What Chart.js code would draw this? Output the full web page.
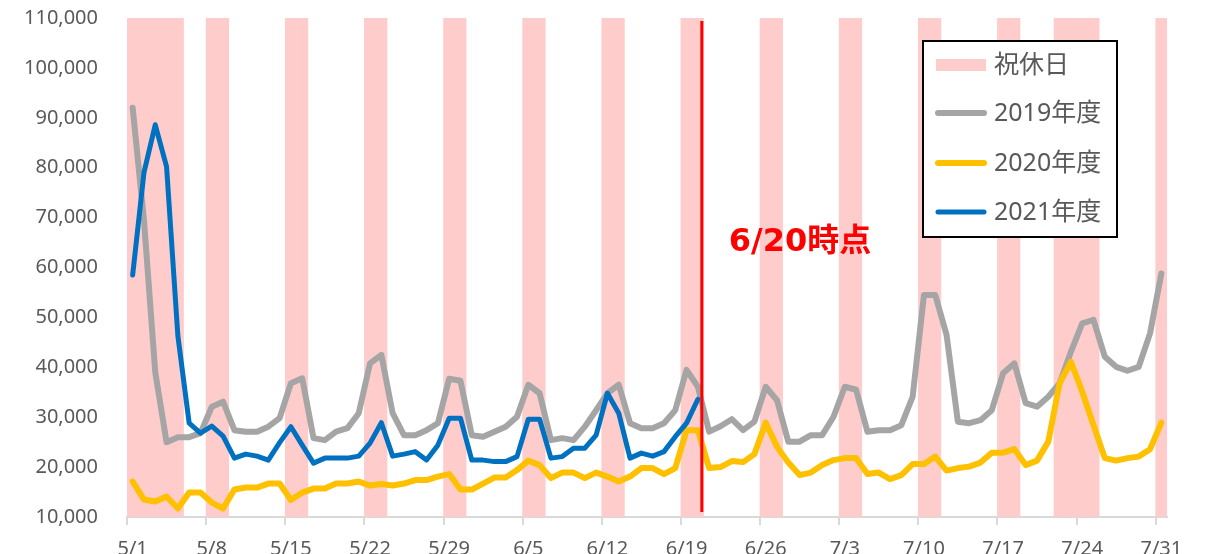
<!DOCTYPE html>
<html>
<head>
<meta charset="utf-8">
<script src="https://cdn.jsdelivr.net/npm/chart.js@4.4.1/dist/chart.umd.min.js"></script>
<style>
  html, body { margin: 0; padding: 0; background: #fff; }
  #wrap { width: 1207px; height: 554px; }
</style>
</head>
<body>
<div id="wrap"><canvas id="lineChart" width="1207" height="554"></canvas></div>
<script>
// dates 5/1 - 7/31
var labels = [
  '5/1','5/2','5/3','5/4','5/5','5/6','5/7','5/8','5/9','5/10','5/11','5/12','5/13','5/14','5/15','5/16',
  '5/17','5/18','5/19','5/20','5/21','5/22','5/23','5/24','5/25','5/26','5/27','5/28','5/29','5/30','5/31',
  '6/1','6/2','6/3','6/4','6/5','6/6','6/7','6/8','6/9','6/10','6/11','6/12','6/13','6/14','6/15','6/16',
  '6/17','6/18','6/19','6/20','6/21','6/22','6/23','6/24','6/25','6/26','6/27','6/28','6/29','6/30',
  '7/1','7/2','7/3','7/4','7/5','7/6','7/7','7/8','7/9','7/10','7/11','7/12','7/13','7/14','7/15','7/16',
  '7/17','7/18','7/19','7/20','7/21','7/22','7/23','7/24','7/25','7/26','7/27','7/28','7/29','7/30','7/31'
];

// weekends and public holidays (pink bands)
var holidays = [
  '5/1','5/2','5/3','5/4','5/5','5/8','5/9','5/15','5/16','5/22','5/23','5/29','5/30',
  '6/5','6/6','6/12','6/13','6/19','6/20','6/26','6/27',
  '7/3','7/4','7/10','7/11','7/17','7/18','7/22','7/23','7/24','7/25','7/31'
];

var data2019 = [
  92000, 69500, 39000, 25000, 26000, 26000, 26800, 32100, 33100, 27400, 27100, 27100, 28100, 29800,
  36800, 37800, 25800, 25400, 27100, 27800, 30800, 40800, 42500, 30800, 26400, 26400, 27400, 28800,
  37700, 37300, 26400, 26100, 27100, 28100, 30100, 36500, 34800, 25400, 25800, 25400, 28100, 31400,
  34800, 36500, 28800, 27800, 27800, 28800, 31400, 39500, 36100, 27100, 28200, 29600, 27400, 29100,
  36100, 33400, 25100, 25100, 26400, 26400, 30100, 36100, 35500, 27100, 27400, 27400, 28400, 34100,
  54500, 54500, 46500, 29100, 28800, 29400, 31400, 38800, 40800, 32800, 32100, 34100, 36800, 43100,
  48800, 49500, 42100, 40100, 39300, 40100, 46800, 58800
];

var data2020 = [
  17100, 13500, 13100, 14100, 11700, 14900, 14900, 12900, 11700, 15500, 15900, 15900, 16700, 16700,
  13400, 14900, 15700, 15700, 16700, 16700, 17100, 16300, 16600, 16300, 16700, 17400, 17400, 18100,
  18600, 15500, 15500, 16700, 17900, 17900, 19400, 21300, 20400, 17800, 18900, 18900, 17800, 18900,
  18100, 17100, 18100, 19800, 19800, 18600, 19800, 27400, 27400, 19800, 20000, 21200, 21000, 22600,
  28900, 24100, 20900, 18400, 18900, 20400, 21400, 21800, 21800, 18600, 18900, 17600, 18400, 20600,
  20600, 22100, 19300, 19800, 20100, 20900, 22900, 22900, 23600, 20400, 21300, 25100, 36800, 41100,
  35100, 28400, 21800, 21300, 21800, 22100, 23600, 28900
];

// 2021 only up to 6/20
var data2021 = [
  58500, 79000, 88600, 80200, 46300, 28800, 26800, 28200, 26200, 21800, 22600, 22200, 21400, 24900,
  28100, 24400, 20800, 21800, 21800, 21800, 22200, 24800, 28900, 22200, 22600, 23100, 21400, 24400,
  29800, 29800, 21400, 21400, 21100, 21100, 22100, 29600, 29600, 21800, 22100, 23800, 23800, 26400,
  34800, 30800, 21800, 22800, 22200, 23100, 26100, 28800, 33600
];

var yTicks = [10000, 110000];
var markDate = '6/20';
var markText = '6/20時点';
var legendNames = ['祝休日', '2019年度', '2020年度', '2021年度'];

var pink = '#FFCCCC';
var colors = ['#A5A5A5', '#FFC000', '#0070C0'];
var bandMax = yTicks[1];
var bands = labels.map(function (d) { return holidays.indexOf(d) >= 0 ? bandMax : null; });

var font = "'Noto Sans', 'Noto Sans CJK JP', sans-serif";

// red marker line + label
var markerPlugin = {
  id: 'marker',
  afterDatasetsDraw: function (chart) {
    var c = chart.ctx, xs = chart.scales.x, area = chart.chartArea;
    var i = labels.indexOf(markDate);
    var x = xs.getPixelForValue(i + 0.35);
    c.save();
    c.strokeStyle = '#FF0000';
    c.lineWidth = 3;
    c.beginPath();
    c.moveTo(x, area.top + 3);
    c.lineTo(x, area.bottom - 5);
    c.stroke();
    c.fillStyle = '#FF0000';
    c.font = "bold 32px 'DejaVu Sans', 'Noto Sans CJK JP', sans-serif";
    c.textBaseline = 'middle';
    c.textAlign = 'left';
    c.fillText(markText, x + 27, 243);
    c.restore();
  }
};

// boxed legend like the excel one
var legendPlugin = {
  id: 'boxLegend',
  afterDraw: function (chart) {
    var c = chart.ctx;
    var bx = 923, by = 41, bw = 194, bh = 196;
    c.save();
    c.fillStyle = '#fff';
    c.fillRect(bx, by, bw, bh);
    c.strokeStyle = '#000';
    c.lineWidth = 2;
    c.strokeRect(bx, by, bw, bh);
    var rows = [65, 113, 163, 212];
    c.font = '25px ' + font;
    c.textBaseline = 'middle';
    c.textAlign = 'left';
    for (var k = 0; k < rows.length; k++) {
      var ry = rows[k];
      if (k === 0) {
        c.fillStyle = pink;
        c.fillRect(936, ry - 6, 50, 12);
      } else {
        c.strokeStyle = colors[k - 1];
        c.lineWidth = k === 3 ? 5 : 6;
        c.lineCap = 'round';
        c.beginPath();
        c.moveTo(938, ry);
        c.lineTo(984, ry);
        c.stroke();
      }
      c.fillStyle = '#595959';
      c.fillText(legendNames[k], 994, ry + 1);
    }
    c.restore();
  }
};

var ctx = document.getElementById('lineChart').getContext('2d');
var myChart = new Chart(ctx, {
  type: 'line',
  data: {
    labels: labels,
    datasets: [
      {
        type: 'bar',
        label: legendNames[0],
        data: bands,
        backgroundColor: pink,
        borderWidth: 0,
        barPercentage: 1,
        categoryPercentage: 1,
        order: 4
      },
      {
        label: legendNames[1],
        data: data2019,
        borderColor: colors[0],
        borderWidth: 6,
        order: 3
      },
      {
        label: legendNames[2],
        data: data2020,
        borderColor: colors[1],
        borderWidth: 6,
        order: 2
      },
      {
        label: legendNames[3],
        data: data2021,
        borderColor: colors[2],
        borderWidth: 5,
        order: 1
      }
    ]
  },
  options: {
    responsive: false,
    animation: false,
    layout: { padding: { top: 18, right: 40, bottom: 0, left: 0 } },
    elements: {
      point: { radius: 0 },
      line: { tension: 0, borderJoinStyle: 'round', borderCapStyle: 'round', fill: false }
    },
    plugins: {
      legend: { display: false },
      tooltip: { enabled: false }
    },
    scales: {
      x: {
        type: 'category',
        offset: true,
        afterFit: function (s) { s.height = 37; },
        grid: {
          offset: true,
          drawOnChartArea: false,
          drawTicks: true,
          tickLength: 8,
          lineWidth: 2,
          color: function (c) { return c.index !== undefined && c.index % 7 === 0 ? '#D9D9D9' : 'rgba(0,0,0,0)'; }
        },
        border: { display: true, color: '#D9D9D9', width: 2 },
        ticks: {
          autoSkip: false,
          maxRotation: 0,
          padding: 12,
          color: '#595959',
          font: { family: font, size: 20 },
          callback: function (v, i) { return i % 7 === 0 ? labels[i] : ''; }
        }
      },
      y: {
        min: yTicks[0],
        max: yTicks[1],
        afterFit: function (s) { s.width = 127; },
        // hidden tick marks keep the labels away from the plot without adding top padding
        grid: { display: false, drawTicks: true, tickLength: 29 },
        border: { display: false },
        ticks: {
          stepSize: 10000,
          padding: 0,
          color: '#595959',
          font: { family: font, size: 20 },
          callback: function (v) { return v.toLocaleString('en-US'); }
        }
      }
    }
  },
  plugins: [markerPlugin, legendPlugin]
});
</script>
</body>
</html>
